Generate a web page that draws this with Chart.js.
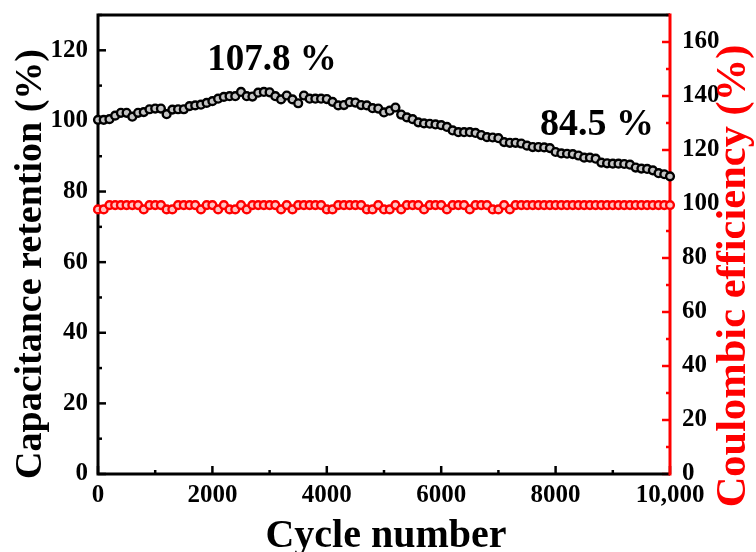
<!DOCTYPE html>
<html>
<head>
<meta charset="utf-8">
<script src="https://cdn.jsdelivr.net/npm/chart.js@4/dist/chart.umd.min.js"></script>
<style>
  html, body { margin: 0; padding: 0; background: #fff; }
  canvas { display: block; }
</style>
</head>
<body>
<canvas id="cycleChart" width="756" height="552"></canvas>
<script>
// cycle numbers (x)
const cycles = [
  0, 100, 200, 300, 400, 500, 600, 700, 800, 900,
  1000, 1100, 1200, 1300, 1400, 1500, 1600, 1700, 1800, 1900,
  2000, 2100, 2200, 2300, 2400, 2500, 2600, 2700, 2800, 2900,
  3000, 3100, 3200, 3300, 3400, 3500, 3600, 3700, 3800, 3900,
  4000, 4100, 4200, 4300, 4400, 4500, 4600, 4700, 4800, 4900,
  5000, 5100, 5200, 5300, 5400, 5500, 5600, 5700, 5800, 5900,
  6000, 6100, 6200, 6300, 6400, 6500, 6600, 6700, 6800, 6900,
  7000, 7100, 7200, 7300, 7400, 7500, 7600, 7700, 7800, 7900,
  8000, 8100, 8200, 8300, 8400, 8500, 8600, 8700, 8800, 8900,
  9000, 9100, 9200, 9300, 9400, 9500, 9600, 9700, 9800, 9900,
  10000
];

// capacitance retention (%), left axis
const retention = [
  100.3, 100.3, 100.5, 101.5, 102.3, 102.3, 101.2, 102.3, 102.5, 103.3,
  103.5, 103.5, 101.9, 103.2, 103.3, 103.3, 104.2, 104.4, 104.6, 105.1,
  105.6, 106.3, 106.8, 107.0, 107.0, 108.2, 107.0, 106.9, 108.0, 108.2,
  108.1, 107.0, 106.1, 107.2, 106.1, 105.0, 107.2, 106.3, 106.3, 106.3,
  106.2, 105.4, 104.4, 104.5, 105.3, 105.2, 104.5, 104.4, 103.6, 103.5,
  102.4, 102.9, 103.8, 101.8, 101.0, 100.5, 99.6, 99.3, 99.2, 99.0,
  98.8, 98.3, 97.3, 96.8, 96.8, 96.8, 96.6, 96.0, 95.4, 95.3,
  95.1, 94.0, 93.8, 93.8, 93.6, 93.0, 92.6, 92.6, 92.5, 92.3,
  91.2, 90.8, 90.7, 90.6, 90.2, 89.6, 89.6, 89.3, 88.2, 88.0,
  87.9, 87.9, 87.8, 87.6, 86.8, 86.5, 86.4, 86.0, 85.2, 84.9,
  84.3
];

// coulombic efficiency (%), right axis
const efficiency = [
  98.0, 98.0, 99.6, 99.6, 99.6, 99.6, 99.6, 99.6, 98.0, 99.6,
  99.6, 99.6, 98.0, 98.0, 99.6, 99.6, 99.6, 99.6, 98.0, 99.6,
  99.6, 98.0, 99.6, 98.0, 98.0, 99.6, 98.0, 99.6, 99.6, 99.6,
  99.6, 99.6, 98.0, 99.6, 98.0, 99.6, 99.6, 99.6, 99.6, 99.6,
  98.0, 98.0, 99.6, 99.6, 99.6, 99.6, 99.6, 98.0, 98.0, 99.6,
  98.0, 98.0, 99.6, 98.0, 99.6, 99.6, 99.6, 98.0, 99.6, 99.6,
  99.6, 98.0, 99.6, 99.6, 99.6, 98.0, 99.6, 99.6, 99.6, 98.0,
  98.0, 99.6, 98.0, 99.6, 99.6, 99.6, 99.6, 99.6, 99.6, 99.6,
  99.6, 99.6, 99.6, 99.6, 99.6, 99.6, 99.6, 99.6, 99.6, 99.6,
  99.6, 99.6, 99.6, 99.6, 99.6, 99.6, 99.6, 99.6, 99.6, 99.6,
  99.6
];

const xTicks = [0, 2000, 4000, 6000, 8000, 10000];
const leftTicks = [0, 20, 40, 60, 80, 100, 120];
const rightTicks = [0, 20, 40, 60, 80, 100, 120, 140, 160];

const SERIF = "'Liberation Serif', 'Times New Roman', serif";
Chart.defaults.font.family = SERIF;
Chart.defaults.font.weight = 'bold';
Chart.defaults.font.size = 25;
Chart.defaults.color = '#000';

function fixTicks(list) {
  return function (scale) {
    scale.ticks = list.map(v => ({ value: v }));
  };
}

// no extra room for overflowing tick labels, the frame is placed by hand
function noPad(scale) {
  scale.paddingTop = 0;
  scale.paddingBottom = 0;
  scale.paddingLeft = 0;
  scale.paddingRight = 0;
}

// frame, inward ticks, titles and labels
const decor = {
  id: 'decor',
  beforeDatasetsDraw(chart) {
    const ctx = chart.ctx;
    const a = chart.chartArea;
    const sx = chart.scales.x, sl = chart.scales.y, sr = chart.scales.y1;
    ctx.save();
    ctx.lineCap = 'butt';
    ctx.lineWidth = 2.5;

    // bottom axis ticks
    ctx.strokeStyle = '#000';
    xTicks.forEach((v, i) => {
      const px = sx.getPixelForValue(v);
      ctx.beginPath(); ctx.moveTo(px, a.bottom); ctx.lineTo(px, a.bottom - 8); ctx.stroke();
      if (i < xTicks.length - 1) {
        const mx = sx.getPixelForValue(v + 1000);
        ctx.beginPath(); ctx.moveTo(mx, a.bottom); ctx.lineTo(mx, a.bottom - 4); ctx.stroke();
      }
    });
    // left axis ticks
    leftTicks.forEach(v => {
      const py = sl.getPixelForValue(v);
      ctx.beginPath(); ctx.moveTo(a.left, py); ctx.lineTo(a.left + 8, py); ctx.stroke();
      const my = sl.getPixelForValue(v + 10);
      ctx.beginPath(); ctx.moveTo(a.left, my); ctx.lineTo(a.left + 4, my); ctx.stroke();
    });
    // right axis ticks
    ctx.strokeStyle = '#ff0000';
    rightTicks.forEach(v => {
      const py = sr.getPixelForValue(v);
      ctx.beginPath(); ctx.moveTo(a.right, py); ctx.lineTo(a.right - 8, py); ctx.stroke();
      const my = sr.getPixelForValue(v + 10);
      ctx.beginPath(); ctx.moveTo(a.right, my); ctx.lineTo(a.right - 4, my); ctx.stroke();
    });

    // frame
    ctx.lineWidth = 3;
    ctx.strokeStyle = '#000';
    ctx.beginPath();
    ctx.moveTo(a.right, a.top); ctx.lineTo(a.left, a.top);
    ctx.lineTo(a.left, a.bottom); ctx.lineTo(a.right, a.bottom);
    ctx.stroke();
    ctx.strokeStyle = '#ff0000';
    ctx.beginPath();
    ctx.moveTo(a.right, a.top - 1.5); ctx.lineTo(a.right, a.bottom + 1.5);
    ctx.stroke();
    ctx.restore();
  },
  afterDraw(chart) {
    const ctx = chart.ctx;
    ctx.save();
    ctx.textBaseline = 'alphabetic';
    ctx.textAlign = 'center';
    ctx.fillStyle = '#000';

    ctx.font = 'bold 40px ' + SERIF;
    ctx.fillText('Cycle number', 386, 547);

    ctx.font = 'bold 37px ' + SERIF;
    ctx.fillText('107.8 %', 272, 70);
    ctx.font = 'bold 38px ' + SERIF;
    ctx.fillText('84.5 %', 597, 135);

    ctx.save();
    ctx.translate(41, 264);
    ctx.rotate(-Math.PI / 2);
    ctx.font = 'bold 38px ' + SERIF;
    ctx.fillText('Capacitance retention (%)', 0, 0);
    ctx.restore();

    ctx.save();
    ctx.translate(745, 276);
    ctx.rotate(-Math.PI / 2);
    ctx.font = 'bold 42.5px ' + SERIF;
    ctx.fillStyle = '#ff0000';
    ctx.fillText('Coulombic efficiency (%)', 0, 0);
    ctx.restore();

    ctx.restore();
  }
};

const config = {
  type: 'line',
  data: {
    datasets: [{
      label: 'Capacitance retention',
      data: cycles.map((c, i) => ({ x: c, y: retention[i] })),
      yAxisID: 'y',
      borderColor: '#000',
      borderWidth: 2,
      pointRadius: 3.9,
      pointBorderWidth: 2.4,
      pointBorderColor: '#000',
      pointBackgroundColor: '#c4c4c4',
      clip: false
    }, {
      label: 'Coulombic efficiency',
      data: cycles.map((c, i) => ({ x: c, y: efficiency[i] })),
      yAxisID: 'y1',
      borderColor: '#ff0000',
      borderWidth: 2,
      pointRadius: 3.9,
      pointBorderWidth: 2.4,
      pointBorderColor: '#ff0000',
      pointBackgroundColor: '#ffc4c4',
      clip: false
    }]
  },
  options: {
    responsive: false,
    animation: false,
    layout: { padding: { top: 15, left: 0, right: 0, bottom: 0 } },
    plugins: { legend: { display: false }, tooltip: { enabled: false } },
    scales: {
      x: {
        type: 'linear',
        min: 0, max: 10000,
        afterBuildTicks: fixTicks(xTicks),
        afterFit(scale) { scale.height = 78; noPad(scale); },
        grid: { display: false, drawTicks: false },
        border: { display: false },
        ticks: {
          padding: 7,
          maxRotation: 0,
          autoSkip: false,
          callback: v => (v === 10000 ? '10,000' : String(v))
        }
      },
      y: {
        type: 'linear',
        position: 'left',
        min: 0, max: 130,
        afterBuildTicks: fixTicks(leftTicks),
        afterFit(scale) { scale.width = 98; noPad(scale); },
        grid: { display: false, drawTicks: false },
        border: { display: false },
        ticks: { padding: 10 }
      },
      y1: {
        type: 'linear',
        position: 'right',
        min: 0, max: 170,
        afterBuildTicks: fixTicks(rightTicks),
        afterFit(scale) { scale.width = 86; noPad(scale); },
        grid: { display: false, drawTicks: false },
        border: { display: false },
        ticks: { padding: 12 }
      }
    }
  },
  plugins: [decor]
};

const chart = new Chart(document.getElementById('cycleChart'), config);
</script>
</body>
</html>
